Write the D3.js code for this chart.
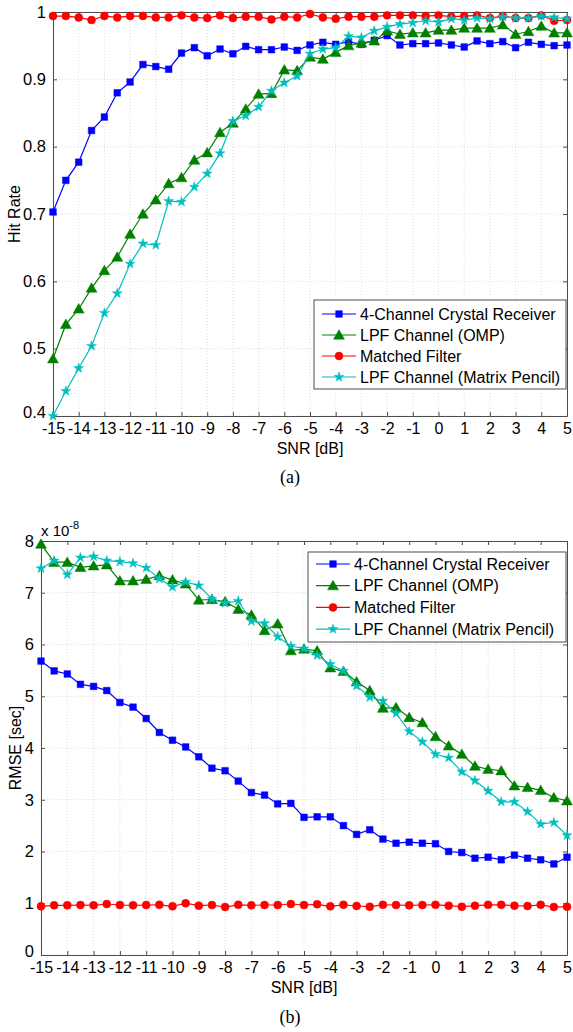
<!DOCTYPE html>
<html>
<head>
<meta charset="utf-8">
<script src="https://cdn.jsdelivr.net/npm/d3@7"></script>
<style>
  html, body { margin: 0; padding: 0; background: #fff; }
  svg { display: block; }
  text { font-family: "Liberation Sans", Arial, sans-serif; fill: #000; }
</style>
</head>
<body>
<svg id="chart" width="573" height="1032"></svg>
<script>
// ---------------- DATA ----------------
const snr = [-15,-14.5,-14,-13.5,-13,-12.5,-12,-11.5,-11,-10.5,-10,-9.5,-9,-8.5,-8,-7.5,-7,-6.5,-6,-5.5,-5,-4.5,-4,-3.5,-3,-2.5,-2,-1.5,-1,-0.5,0,0.5,1,1.5,2,2.5,3,3.5,4,4.5,5];
const xTicks = [-15,-14,-13,-12,-11,-10,-9,-8,-7,-6,-5,-4,-3,-2,-1,0,1,2,3,4,5];
const xTickLabels = ["-15","-14","-13","-12","-11","-10","-9","-8","-7","-6","-5","-4","-3","-2","-1","0","1","2","3","4","5"];
const seriesNames = ["4-Channel Crystal Receiver","LPF Channel (OMP)","Matched Filter","LPF Channel (Matrix Pencil)"];

// (a) Hit rate
const hitTicks = [0.4,0.5,0.6,0.7,0.8,0.9,1];
const hitTickLabels = ["0.4","0.5","0.6","0.7","0.8","0.9","1"];
const hitCrystal = [0.703,0.750,0.777,0.824,0.844,0.880,0.896,0.922,0.919,0.915,0.939,0.947,0.935,0.945,0.938,0.949,0.944,0.944,0.948,0.943,0.951,0.955,0.952,0.956,0.952,0.958,0.965,0.951,0.953,0.953,0.954,0.951,0.948,0.957,0.953,0.956,0.947,0.955,0.952,0.950,0.951];
const hitOMP = [0.485,0.536,0.559,0.590,0.616,0.636,0.670,0.700,0.721,0.745,0.754,0.780,0.791,0.821,0.835,0.856,0.878,0.879,0.914,0.913,0.933,0.930,0.940,0.950,0.954,0.957,0.972,0.967,0.969,0.969,0.973,0.973,0.976,0.976,0.976,0.981,0.967,0.971,0.979,0.969,0.969];
const hitMatched = [0.994,0.994,0.992,0.988,0.994,0.992,0.994,0.994,0.992,0.992,0.995,0.992,0.991,0.995,0.991,0.993,0.993,0.989,0.993,0.992,0.997,0.992,0.990,0.993,0.993,0.993,0.995,0.995,0.995,0.994,0.995,0.993,0.994,0.995,0.991,0.994,0.991,0.991,0.995,0.987,0.988];
const hitMP = [0.400,0.437,0.471,0.504,0.553,0.582,0.626,0.656,0.654,0.719,0.718,0.740,0.760,0.790,0.838,0.846,0.859,0.883,0.895,0.905,0.938,0.945,0.947,0.964,0.962,0.972,0.978,0.982,0.984,0.987,0.985,0.990,0.988,0.991,0.990,0.993,0.991,0.991,0.994,0.992,0.990];

// (b) RMSE (x 1e-8 sec)
const rmseTicks = [0,1,2,3,4,5,6,7,8];
const rmseTickLabels = ["0","1","2","3","4","5","6","7","8"];
const rmseCrystal = [5.68,5.49,5.43,5.23,5.19,5.11,4.88,4.79,4.57,4.30,4.15,4.02,3.83,3.61,3.56,3.36,3.14,3.09,2.92,2.93,2.66,2.67,2.67,2.50,2.33,2.42,2.24,2.16,2.18,2.16,2.15,2.00,1.98,1.87,1.89,1.84,1.93,1.87,1.84,1.76,1.89];
const rmseOMP = [7.94,7.59,7.59,7.49,7.52,7.54,7.23,7.23,7.26,7.33,7.25,7.17,6.86,6.87,6.83,6.68,6.57,6.27,6.40,5.88,5.91,5.88,5.55,5.48,5.28,5.11,4.77,4.78,4.59,4.49,4.22,4.04,3.88,3.65,3.59,3.56,3.27,3.24,3.18,3.04,2.98];
const rmseMatched = [0.94,0.96,0.96,0.966,0.96,0.985,0.966,0.96,0.966,0.97,0.94,1.00,0.953,0.966,0.927,0.97,0.96,0.966,0.966,0.985,0.966,0.98,0.94,0.97,0.947,0.933,0.97,0.966,0.96,0.966,0.97,0.953,0.933,0.953,0.97,0.97,0.953,0.947,0.97,0.927,0.933];
const rmseMP = [7.47,7.62,7.35,7.68,7.70,7.62,7.60,7.57,7.48,7.27,7.11,7.21,7.14,6.88,6.80,6.84,6.45,6.41,6.15,5.97,5.92,5.79,5.62,5.49,5.20,4.98,4.91,4.67,4.32,4.12,3.88,3.81,3.54,3.37,3.17,2.96,2.96,2.77,2.53,2.56,2.31];

// ---------------- STYLE ----------------
const colors = ["#0000ff","#008000","#ff0000","#00bfbf"];
const symbols = [d3.symbolSquare, d3.symbolTriangle, d3.symbolCircle, d3.symbolStar];
const symSizes = [44, 52, 50, 30];

const svg = d3.select("#chart");

function panel(opt) {
  const g = svg.append("g");
  const x = d3.scaleLinear().domain([-15,5]).range([opt.left, opt.right]);
  const y = d3.scaleLinear().domain(opt.yDomain).range([opt.bottom, opt.top]);

  // grid
  g.append("g").selectAll("line").data(xTicks).join("line")
    .attr("x1", d => x(d)).attr("x2", d => x(d))
    .attr("y1", opt.top).attr("y2", opt.bottom)
    .attr("stroke", "#d4d4d4").attr("stroke-width", 0.8).attr("stroke-dasharray", "1,2");
  g.append("g").selectAll("line").data(opt.yTicks).join("line")
    .attr("x1", opt.left).attr("x2", opt.right)
    .attr("y1", d => y(d)).attr("y2", d => y(d))
    .attr("stroke", "#d4d4d4").attr("stroke-width", 0.8).attr("stroke-dasharray", "1,2");

  // axes (inward ticks on all sides)
  const axCol = "#4d4d4d";
  const bottomAx = d3.axisBottom(x).tickValues(xTicks).tickSizeInner(-4).tickSizeOuter(0).tickPadding(7)
      .tickFormat((d,i) => xTickLabels[i]);
  const topAx = d3.axisTop(x).tickValues(xTicks).tickSizeInner(-4).tickSizeOuter(0).tickFormat("");
  const leftAx = d3.axisLeft(y).tickValues(opt.yTicks).tickSizeInner(-4).tickSizeOuter(0).tickPadding(7)
      .tickFormat((d,i) => opt.yTickLabels[i]);
  const rightAx = d3.axisRight(y).tickValues(opt.yTicks).tickSizeInner(-4).tickSizeOuter(0).tickFormat("");

  const styleAx = (sel, fs) => {
    sel.selectAll("path").attr("stroke", axCol).attr("stroke-width", 1);
    sel.selectAll("line").attr("stroke", axCol);
    sel.selectAll("text").attr("font-size", fs).attr("font-family", "Liberation Sans, Arial, sans-serif").attr("fill", "#000");
  };
  g.append("g").attr("transform", `translate(0,${opt.bottom})`).call(bottomAx).call(styleAx, 16);
  g.append("g").attr("transform", `translate(0,${opt.top})`).call(topAx).call(styleAx, 16);
  const la = g.append("g").attr("transform", `translate(${opt.left},0)`).call(leftAx).call(styleAx, 16.5);
  // lowest y label sits just above the x labels, as in the reference
  la.selectAll(".tick text").filter(d => d === opt.yDomain[0]).attr("dy", "0.1em");
  g.append("g").attr("transform", `translate(${opt.right},0)`).call(rightAx).call(styleAx, 16);

  // series
  opt.series.forEach((vals, k) => {
    const pts = snr.map((s, i) => [x(s), y(vals[i])]);
    g.append("path").attr("d", d3.line()(pts)).attr("fill", "none")
      .attr("stroke", colors[k]).attr("stroke-width", 1.2);
    g.append("g").selectAll("path").data(pts).join("path")
      .attr("transform", d => `translate(${d[0]},${d[1] + (k === 1 ? 1 : 0)})`)
      .attr("d", d3.symbol(symbols[k], symSizes[k])())
      .attr("fill", colors[k]).attr("stroke", colors[k]).attr("stroke-width", 0.5);
  });

  // labels
  g.append("text").attr("x", (opt.left + opt.right) / 2).attr("y", opt.bottom + 38)
    .attr("text-anchor", "middle").attr("font-size", 16).text("SNR [dB]");
  g.append("text").attr("transform", `translate(${opt.yLabelX},${(opt.top + opt.bottom) / 2}) rotate(-90)`)
    .attr("text-anchor", "middle").attr("dy", "0.35em").attr("font-size", 16).text(opt.yLabel);
  g.append("text").attr("x", 290).attr("y", opt.captionY)
    .attr("text-anchor", "middle").attr("font-size", 18)
    .style("font-family", "'Liberation Serif', 'Times New Roman', serif").text(opt.caption);

  // legend
  const L = opt.legend;
  g.append("rect").attr("x", L.x).attr("y", L.y).attr("width", L.w).attr("height", L.h)
    .attr("fill", "#fff").attr("stroke", "#4d4d4d").attr("stroke-width", 1);
  seriesNames.forEach((name, k) => {
    const cy = L.y + L.pad + k * L.row;
    g.append("line").attr("x1", L.x + 8).attr("x2", L.x + 42).attr("y1", cy).attr("y2", cy)
      .attr("stroke", colors[k]).attr("stroke-width", 1.2);
    g.append("path").attr("transform", `translate(${L.x + 25},${cy + (k === 1 ? 1 : 0)})`)
      .attr("d", d3.symbol(symbols[k], symSizes[k])())
      .attr("fill", colors[k]).attr("stroke", colors[k]).attr("stroke-width", 0.5);
    g.append("text").attr("x", L.x + 46).attr("y", cy).attr("dy", "0.35em")
      .attr("font-size", 16).text(name);
  });
  return {g, x, y};
}

panel({
  left: 53, right: 567, top: 12, bottom: 416,
  yDomain: [0.4, 1], yTicks: hitTicks, yTickLabels: hitTickLabels,
  series: [hitCrystal, hitOMP, hitMatched, hitMP],
  yLabel: "Hit Rate", yLabelX: 14, caption: "(a)", captionY: 483,
  legend: {x: 314, y: 300, w: 252, h: 89, pad: 14, row: 21}
});

const b = panel({
  left: 41, right: 567, top: 541, bottom: 955,
  yDomain: [0, 8], yTicks: rmseTicks, yTickLabels: rmseTickLabels,
  series: [rmseCrystal, rmseOMP, rmseMatched, rmseMP],
  yLabel: "RMSE [sec]", yLabelX: 15, caption: "(b)", captionY: 1023,
  legend: {x: 308, y: 552, w: 258, h: 90, pad: 12, row: 21.7}
});

// exponent label
const ex = b.g.append("text").attr("x", 41).attr("y", 536).attr("font-size", 15);
ex.append("tspan").text("x 10");
ex.append("tspan").attr("dy", -7).attr("font-size", 11).text("-8");
</script>
</body>
</html>
